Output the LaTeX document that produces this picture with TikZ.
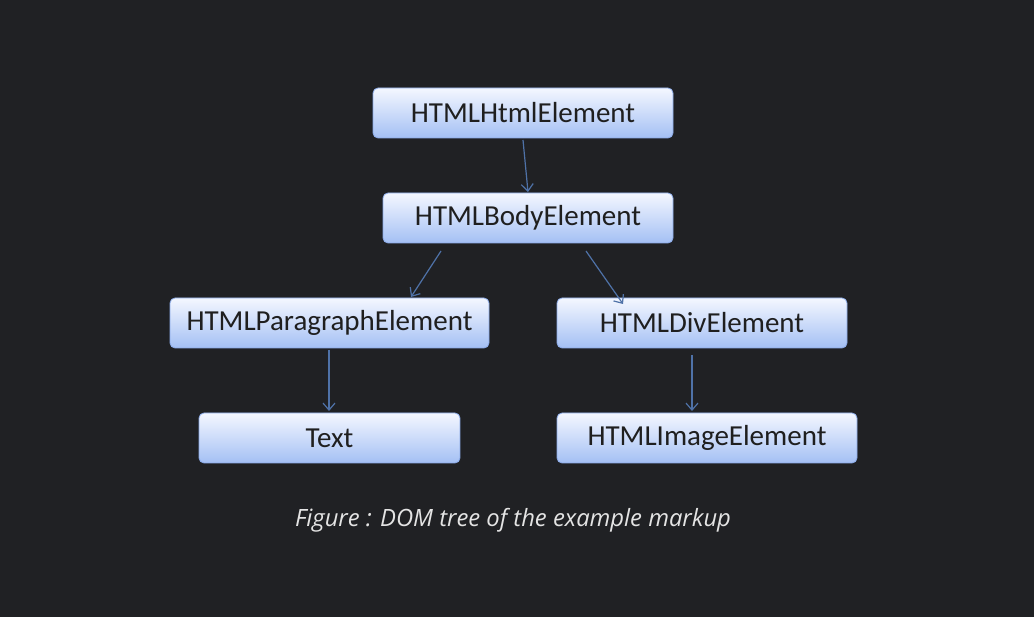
\documentclass[tikz,border=0pt]{standalone}
\usepackage{fontspec}
\setmainfont{Carlito}
\newfontfamily\capfont{Open Sans}
\usetikzlibrary{arrows.meta}
\definecolor{bg}{HTML}{202124}
\definecolor{boxtop}{HTML}{F4F7FF}
\definecolor{boxbot}{HTML}{A4C0F4}
\definecolor{boxedge}{HTML}{8AAAE8}
\definecolor{arr}{HTML}{4F72A8}
\definecolor{captxt}{HTML}{E4E4E4}
\tikzset{
  elem/.style={draw=boxedge, line width=0.8pt, rounded corners=5pt,
    top color=boxtop, bottom color=boxbot, minimum height=50pt,
    inner sep=0pt, text=black!88, font=\fontsize{29}{32}\selectfont},
  link/.style={draw=arr, line width=1.2pt, -{Straight Barb[length=7pt,width=12pt,line width=1.2pt]}}
}
\begin{document}
\begin{tikzpicture}[x=1pt,y=-1pt]
\fill[bg] (0,0) rectangle (1034,617);
\useasboundingbox (0,0) rectangle (1034,617);
\node[elem, minimum width=300pt] (html) at (523,113) {HTMLHtmlElement};
\node[elem, minimum width=290pt] (body) at (528,218) {HTMLBodyElement};
\node[elem, minimum width=319pt] (para) at (329.5,323) {HTMLParagraphElement};
\node[elem, minimum width=290pt] (div) at (702,323) {HTMLDivElement};
\node[elem, minimum width=261pt] (text) at (329.5,438) {Text};
\node[elem, minimum width=300pt] (img) at (707,438) {HTMLImageElement};
\coordinate (a1) at (523,140);
\coordinate (a2) at (528,192);
\coordinate (b1) at (441,251);
\coordinate (b2) at (411,297);
\coordinate (c1) at (586,251);
\coordinate (c2) at (623,304);
\coordinate (d1) at (329,350);
\coordinate (d2) at (329,411);
\coordinate (e1) at (692,355);
\coordinate (e2) at (692,411);
\draw[link] (a1) -- (a2);
\draw[link] (b1) -- (b2);
\draw[link] (c1) -- (c2);
\draw[link] (d1) -- (d2);
\draw[link] (e1) -- (e2);
\node[text=captxt, font=\capfont\itshape\fontsize{23.8}{28}\selectfont] (cap) at (513,520) {Figure : DOM tree of the example markup};
\end{tikzpicture}
\end{document}
